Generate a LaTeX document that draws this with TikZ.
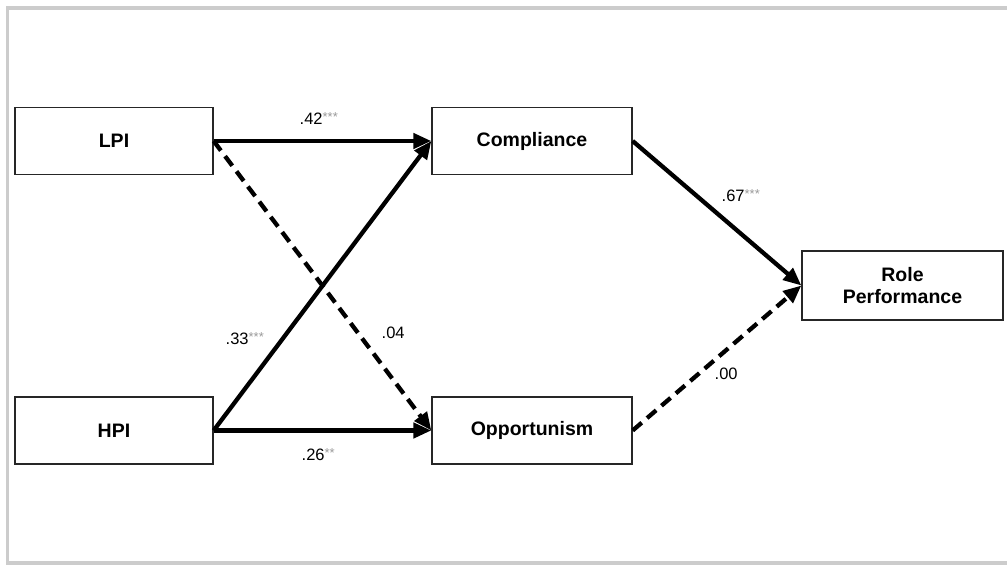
\documentclass[tikz,border=0pt]{standalone}
\usepackage{fontspec}
\setmainfont{Liberation Sans}
\usetikzlibrary{arrows.meta}
\definecolor{framecol}{HTML}{CCCCCC}
\definecolor{starcol}{HTML}{9A9A9A}
\newcommand{\stars}[1]{{\color{starcol}\fontsize{13}{13}\selectfont\raisebox{3pt}{#1}}}
\begin{document}
\begin{tikzpicture}[x=1pt,y=-1pt,
  varbox/.style={draw=black!85,line width=1.3pt,minimum width=198pt,minimum height=67pt,inner sep=0pt,
    font=\fontsize{19.5}{21}\selectfont\bfseries,align=center},
  path/.style={line width=4.3pt,-{Triangle[length=18pt,width=15pt]}},
  nspath/.style={path,dash pattern=on 12pt off 7pt},
  coef/.style={font=\fontsize{16.5}{18}\selectfont,inner sep=0pt,anchor=west}]
\useasboundingbox (0,0) rectangle (1007,569);
\draw[framecol,line width=3.5pt] (1007,8) -- (7.5,8) -- (7.5,563) -- (1007,563);
\node[varbox] (lpi) at (114,141) {LPI};
\node[varbox] (hpi) at (114,430.5) {HPI};
\node[varbox,minimum width=200pt] (comp) at (532,141) {Compliance};
\node[varbox,minimum width=200pt] (opp) at (532,430.5) {Opportunism};
\node[varbox,minimum width=201pt,minimum height=69pt,font=\fontsize{19.5}{21.5}\selectfont\bfseries] (role) at (902.5,285.5) {Role\\Performance};
\draw[path] (lpi.east) -- (comp.west);
\draw[path] (hpi.east) -- (comp.west);
\draw[nspath] (lpi.east) -- (opp.west);
\draw[path] (hpi.east) -- (opp.west);
\draw[path] (comp.east) -- (role.west);
\draw[nspath] (opp.east) -- (role.west);
\node[coef] (c42) at (299.5,119) {.42\stars{***}};
\node[coef] (c33) at (225.5,338.5) {.33\stars{***}};
\node[coef] (c04) at (381.5,333) {.04};
\node[coef] (c26) at (301.5,454.5) {.26\stars{**}};
\node[coef] (c67) at (721.5,196) {.67\stars{***}};
\node[coef] (c00) at (714.5,374) {.00};
\end{tikzpicture}
\end{document}
